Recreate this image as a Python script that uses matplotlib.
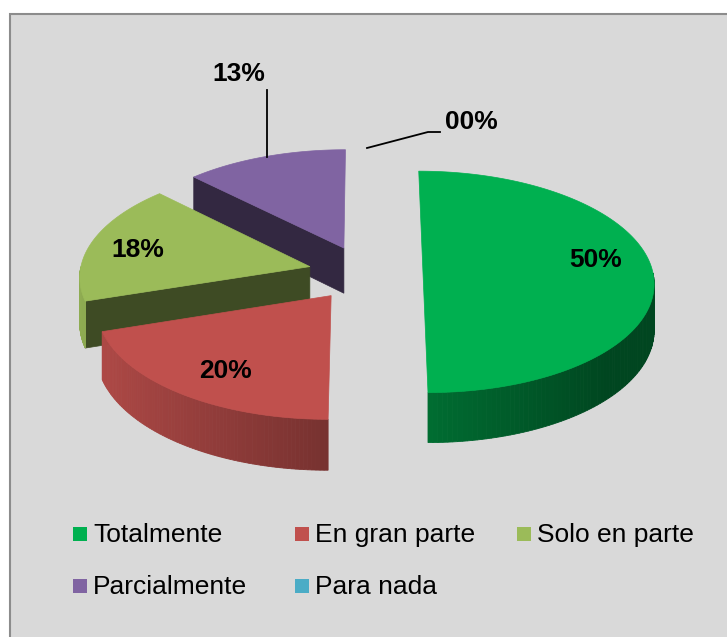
import numpy as np
import matplotlib
matplotlib.use('Agg')
import matplotlib.pyplot as plt
from matplotlib.patches import Polygon, Rectangle
from matplotlib.colors import to_rgb

# ── Data ────────────────────────────────────────────────────
categories = ['Totalmente', 'En gran parte', 'Solo en parte', 'Parcialmente', 'Para nada']
shares = [50.0, 20.0, 17.5, 12.5, 0.0]     # percent
colors = ['#00b050', '#c0504d', '#9bbb59', '#8064a2', '#4bacc6']

# Excel custom number format "00%" (round half up)
pct_labels = [f'{int(v + 0.5):02d}%' for v in shares]

# ── Layout (pixel space, y down) ────────────────────────────
W, H = 727, 637
cx, cy = 365.5, 273.0      # pie centre before explosion
rx, ry = 230.0, 110.0      # projected ellipse
depth0 = 46.0
explode = 0.25
persp = 0.08               # perspective strength (far side smaller)
label_pos = [(596, 260), (226, 371), (138, 250), (239, 74), (471, 122)]

plt.rcParams['font.family'] = ['Liberation Sans', 'DejaVu Sans']

fig = plt.figure(figsize=(W / 100, H / 100), dpi=100)
ax = fig.add_axes([0, 0, 1, 1])
ax.set_xlim(0, W)
ax.set_ylim(H, 0)
ax.axis('off')

ax.add_patch(Rectangle((10, 14), W + 20, H + 20, facecolor='#d9d9d9',
                       edgecolor='#8c8c8c', lw=1.5, zorder=0))


def shade(c, f):
    r, g, b = to_rgb(c)
    return (min(r * f, 1), min(g * f, 1), min(b * f, 1))


def proj(X, Z):
    # plane coords (X right, Z away from viewer) -> screen pixels + side depth
    s = 1.0 / (1 + persp * Z)
    return cx + rx * X * s, cy - ry * Z * s, depth0 * s


total = sum(shares)
starts = np.cumsum([0] + shares[:-1]) / total * 2 * np.pi
spans = np.array(shares) / total * 2 * np.pi

slices = []
for i, (s, sp) in enumerate(zip(starts, spans)):
    mid = s + sp / 2
    ex, ez = explode * np.sin(mid), explode * np.cos(mid)
    slices.append((-ez, i, s, s + sp, ex, ez))

# draw back to front
for _, i, a, b, ex, ez in sorted(slices):
    if b - a <= 0:
        continue
    col = colors[i]
    ox, oy, od = proj(ex, ez)
    z = oy

    def rim(t):
        return proj(ex + np.sin(t), ez + np.cos(t))

    dark = shade(col, 0.4)
    # radial walls facing the viewer
    for edge, visible in ((a, np.sin(a) < -1e-6), (b, np.sin(b) > 1e-6)):
        if visible:
            px, py, pd = rim(edge)
            ax.add_patch(Polygon([(ox, oy), (px, py), (px, py + pd), (ox, oy + od)],
                                 closed=True, fc=dark, ec=dark, lw=0.5, zorder=z))
    # curved outer side (front half only)
    lo, hi = max(a, np.pi / 2), min(b, 3 * np.pi / 2)
    if hi > lo:
        th = np.linspace(lo, hi, 80)
        for t0, t1 in zip(th[:-1], th[1:]):
            f = np.clip(0.62 - 0.3 * np.sin((t0 + t1) / 2), 0.4, 0.95)
            x0, y0, d0 = rim(t0)
            x1, y1, d1 = rim(t1)
            c = shade(col, f)
            ax.add_patch(Polygon([(x0, y0), (x1, y1), (x1, y1 + d1), (x0, y0 + d0)],
                                 closed=True, fc=c, ec=c, lw=0.6, zorder=z + 0.1))
    # top face
    th = np.linspace(a, b, 200)
    top = [(ox, oy)] + [rim(t)[:2] for t in th]
    ax.add_patch(Polygon(top, closed=True, fc=col, ec=col, lw=0.5, zorder=z + 0.2))

# ── Data labels ─────────────────────────────────────────────
for txt, (lx, ly) in zip(pct_labels, label_pos):
    ax.text(lx, ly, txt, fontsize=19, fontweight='bold', ha='center', va='center',
            color='black', zorder=1000)

# leader lines for the small slices
ax.plot([267, 267], [90, 157], color='black', lw=1.3, zorder=999)
ax.plot([367, 428, 440], [148, 132, 132], color='black', lw=1.3, zorder=999)

# ── Legend ──────────────────────────────────────────────────
leg_x = [73, 295, 517, 73, 295]
leg_y = [534, 534, 534, 585.5, 585.5]
for name, col, lx, ly in zip(categories, colors, leg_x, leg_y):
    ax.add_patch(Rectangle((lx, ly - 7), 14, 14, fc=col, ec='none', zorder=1000))
    ax.text(lx + 20, ly + 1, name, fontsize=19, ha='left', va='center',
            color='black', zorder=1000)

fig.savefig('out.png', dpi=100, facecolor='white')
